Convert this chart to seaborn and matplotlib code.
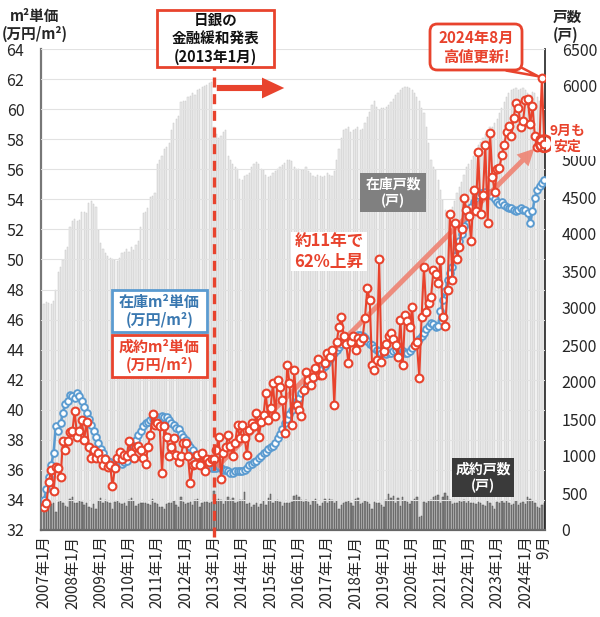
# plot.py
import numpy as np
import pandas as pd
import seaborn as sns
import matplotlib.pyplot as plt
from matplotlib.patches import FancyBboxPatch

# ---- data (monthly, 2007/1 .. 2024/9) ----
first_year = 2007
last_month_label = "9月"

# inventory units (戸), light grey bars
inv_units = [
    3050, 3080, 3070, 3060, 3100, 3250, 3480, 3550, 3650, 3780, 3820, 4100,  # 2007
    4180, 4200, 4170, 4190, 4300, 4300, 4280, 4420, 4450, 4400, 4370, 4050,  # 2008
    3880, 3800, 3750, 3700, 3680, 3660, 3650, 3640, 3680, 3740, 3760, 3800,  # 2009
    3760, 3820, 3780, 3850, 3900, 4100, 4280, 4300, 4350, 4500, 4520, 4550,  # 2010
    4950, 5000, 5050, 5150, 5180, 5230, 5400, 5500, 5550, 5600, 5780, 5800,  # 2011
    5800, 5850, 5870, 5900, 5880, 5950, 5960, 5980, 6000, 6020, 6040, 6060,  # 2012
    5450, 5350, 5300, 5320, 5380, 5400, 5050, 5000, 4950, 4900, 4880, 4750,  # 2013
    4730, 4780, 4800, 4820, 4900, 4950, 4970, 4950, 4880, 4860, 4800, 4770,  # 2014
    4780, 4820, 4850, 4880, 4900, 4930, 4960, 5000, 5000, 4980, 4900, 4880,  # 2015
    4880, 4860, 4870, 4900, 4850, 4820, 4780, 4770, 4800, 4780, 4770, 4790,  # 2016
    4820, 4800, 4780, 4850, 5000, 5150, 5300, 5400, 5420, 5450, 5380, 5400,  # 2017
    5420, 5450, 5400, 5420, 5500, 5580, 5650, 5750, 5800, 5720, 5680, 5700,  # 2018
    5700, 5720, 5750, 5780, 5820, 5880, 5900, 5950, 5970, 5990, 5980, 5970,  # 2019
    5950, 5900, 5850, 5800, 5700, 5630, 5450, 5230, 5000, 4900, 4860, 4730,  # 2020
    4600, 4460, 4320, 4280, 4230, 4360, 4450, 4550, 4630, 4700, 4800, 4900,  # 2021
    4950, 5000, 5050, 5130, 5200, 5250, 5300, 5350, 5400, 5450, 5450, 5500,  # 2022
    5550, 5630, 5700, 5780, 5850, 5900, 5950, 5960, 5970, 5950, 5960, 5970,  # 2023
    5950, 5900, 5880, 5920, 5900, 5850, 5800, 5750, 5720,                    # 2024
]

# contracted units (戸), dark grey bars
sold_units = [
    351, 338, 351, 351, 360, 248, 383, 396, 360, 324, 315, 414,
    441, 360, 369, 392, 383, 338, 360, 315, 293, 351, 279, 396,
    428, 369, 405, 383, 360, 279, 383, 396, 369, 351, 360, 324,
    405, 428, 396, 324, 351, 369, 369, 360, 351, 338, 414, 360,
    351, 315, 306, 279, 351, 369, 360, 396, 338, 315, 450, 383,
    351, 369, 383, 338, 405, 414, 306, 369, 383, 375, 365, 383,
    531, 405, 414, 405, 351, 396, 441, 405, 428, 360, 383, 405,
    400, 518, 351, 369, 315, 338, 369, 315, 351, 396, 338, 428,
    486, 360, 396, 405, 383, 324, 369, 360, 360, 383, 459, 473,
    441, 405, 383, 405, 380, 338, 396, 414, 351, 324, 360, 414,
    370, 414, 405, 360, 396, 279, 338, 369, 383, 390, 360, 324,
    414, 428, 351, 369, 396, 383, 350, 279, 383, 369, 360, 338,
    315, 400, 486, 428, 459, 360, 428, 324, 450, 396, 380, 351,
    396, 414, 450, 180, 189, 383, 369, 396, 405, 441, 459, 473,
    360, 441, 504, 459, 405, 351, 360, 369, 396, 383, 405, 360,
    396, 369, 369, 351, 383, 369, 338, 324, 396, 360, 324, 279,
    383, 369, 390, 360, 396, 369, 338, 351, 396, 338, 360, 383,
    351, 441, 414, 396, 360, 315, 293, 340, 360,
]

# inventory price (万円/m2), blue line
inv_price = [
    34.0, 34.7, 35.5, 36.3, 37.1, 38.9, 38.6, 39.1, 39.8, 40.4, 40.6, 41.0,
    40.9, 40.8, 41.1, 40.9, 40.6, 40.2, 39.8, 39.4, 39.0, 38.6, 38.2, 37.8,
    37.4, 37.1, 36.8, 36.6, 36.5, 36.4, 36.5, 36.6, 36.5, 36.4, 36.5, 36.6,
    36.9, 37.3, 37.6, 38.0, 38.3, 38.6, 38.9, 39.1, 39.2, 39.3, 39.4, 39.4,
    39.5, 39.4, 39.6, 39.5, 39.5, 39.3, 39.1, 39.0, 38.8, 38.7, 38.4, 38.2,
    38.0, 37.7, 37.5, 37.3, 37.0, 36.9, 36.7, 36.5, 36.4, 36.3, 36.2, 36.1,
    36.1, 36.1, 36.2, 36.1, 36.0, 36.0, 35.9, 35.8, 35.8, 35.9, 35.9, 35.9,
    35.9, 36.0, 36.1, 36.3, 36.4, 36.5, 36.6, 36.8, 36.9, 37.1, 37.2, 37.4,
    37.5, 37.6, 37.8, 38.1, 38.4, 38.7, 39.1, 39.4, 39.7, 40.0, 40.3, 40.6,
    40.8, 41.1, 41.3, 41.5, 41.7, 41.9, 42.1, 42.3, 42.4, 42.5, 42.7, 42.9,
    43.1, 43.4, 43.6, 43.8, 44.0, 44.2, 44.4, 44.5, 44.6, 44.7, 44.8, 44.9,
    44.9, 45.0, 45.0, 44.9, 44.8, 44.6, 44.4, 44.3, 44.1, 44.0, 43.9, 43.8,
    43.8, 43.7, 43.8, 43.8, 43.9, 44.0, 44.1, 44.1, 43.9, 43.8, 43.8, 43.9,
    44.1, 44.3, 44.5, 44.7, 44.9, 45.1, 45.4, 45.6, 45.8, 45.7, 45.5, 45.6,
    46.6, 47.3, 47.9, 48.6, 49.1, 49.5, 50.2, 50.8, 51.2, 51.7, 52.2, 52.8,
    53.1, 53.5, 53.8, 54.1, 54.3, 54.4, 54.4, 54.5, 54.3, 54.4, 54.2, 54.0,
    53.8, 53.7, 53.8, 53.6, 53.5, 53.4, 53.4, 53.3, 53.2, 53.3, 53.4, 53.3,
    53.3, 53.1, 52.4, 53.2, 54.1, 54.6, 54.9, 55.1, 55.3,
]

# contracted price (万円/m2), red line
sold_price = [
    33.5, 33.8, 35.2, 36.0, 34.6, 36.2, 36.1, 35.5, 37.9, 37.3, 37.9, 38.5,
    38.6, 39.9, 38.2, 38.6, 39.3, 38.0, 39.2, 37.5, 36.8, 37.3, 36.8, 37.1,
    36.7, 36.3, 36.7, 36.2, 36.3, 34.9, 36.1, 36.8, 37.2, 36.7, 37.0, 36.9,
    37.9, 37.1, 36.8, 37.5, 37.6, 37.3, 36.8, 36.4, 37.5, 38.3, 39.7, 39.0,
    39.1, 38.9, 35.8, 38.9, 38.2, 36.9, 37.5, 38.1, 37.0, 36.5, 36.9, 37.8,
    37.8, 36.9, 35.1, 36.3, 36.4, 37.0, 36.3, 37.1, 35.9, 36.7, 36.5, 36.7,
    36.7, 37.3, 38.2, 35.4, 37.1, 37.5, 38.3, 37.6, 36.9, 37.8, 39.0, 38.1,
    39.0, 38.1, 37.0, 38.65, 39.1, 38.9, 39.8, 38.2, 39.2, 39.65, 41.1, 39.3,
    40.1, 41.8, 39.6, 42.0, 41.5, 40.65, 38.45, 43.0, 41.8, 39.0, 42.65, 40.3,
    40.0, 39.6, 41.3, 42.5, 42.0, 41.65, 42.2, 42.8, 43.4, 42.3, 42.3, 43.1,
    43.8, 43.5, 44.0, 40.3, 44.5, 45.5, 46.2, 44.9, 44.4, 43.1, 44.5, 44.9,
    44.0, 44.8, 44.5, 44.8, 46.1, 48.1, 47.3, 43.0, 42.65, 43.3, 50.0, 43.2,
    43.9, 44.4, 44.9, 45.1, 44.7, 44.3, 43.5, 46.0, 43.0, 46.3, 45.9, 45.5,
    46.85, 44.3, 44.5, 42.1, 46.2, 49.5, 46.5, 47.1, 47.5, 49.3, 49.0, 48.4,
    49.95, 46.2, 45.6, 48.0, 53.0, 48.6, 52.4, 50.0, 50.85, 52.0, 54.1, 53.3,
    52.9, 51.2, 54.6, 53.2, 57.15, 53.0, 54.3, 57.6, 52.4, 58.4, 55.5, 54.5,
    56.0, 56.1, 56.95, 57.6, 58.5, 58.9, 58.2, 59.4, 60.4, 60.1, 58.8, 59.2,
    60.6, 60.7, 59.0, 60.2, 58.2, 57.5, 58.0, 62.1, 57.7,
]

n = len(sold_price)
df = pd.DataFrame({
    "idx": np.arange(n),
    "inv_units": inv_units,
    "sold_units": sold_units,
    "inv_price": inv_price,
    "sold_price": sold_price,
})

tick_pos = list(range(0, n, 12)) + [n - 1]
tick_labels = [f"{first_year + i}年1月" for i in range(len(tick_pos) - 1)] + [last_month_label]

RED = "#e8432d"
BLUE = "#5b9bd0"
W, H = 600, 617

sns.set_style("white")
plt.rcParams["font.family"] = ["Noto Sans CJK JP", "DejaVu Sans"]

fig = plt.figure(figsize=(6, 6.17), dpi=100)
fig.patch.set_facecolor("white")
ax = fig.add_axes([41 / W, 1 - 530 / H, 504 / W, 481 / H])

# bars (units, right scale)
sns.barplot(data=df, x="idx", y="inv_units", native_scale=True, ax=ax,
            color="#ebebeb", saturation=1, width=0.5, edgecolor="#c8c8c8",
            linewidth=0.35, errorbar=None)
sns.barplot(data=df, x="idx", y="sold_units", native_scale=True, ax=ax,
            color="#858585", saturation=1, width=0.6, edgecolor="#505050",
            linewidth=0.35, errorbar=None)
ax.set_xlim(-1.3, n - 0.7)
ax.set_ylim(0, 6500)
ax.set_xlabel("")
ax.set_ylabel("")

# lines (price, left scale)
ax2 = ax.twinx()
ax2.set_ylim(32, 64)
ax2.grid(axis="y", color="#e2e2e2", lw=0.8)
ax2.grid(axis="x", visible=False)

sns.lineplot(data=df, x="idx", y="inv_price", ax=ax2, color=BLUE, lw=1.8,
             marker="o", markersize=4.8, markerfacecolor="white",
             markeredgecolor=BLUE, markeredgewidth=1.4, zorder=2)
ax2.annotate("", xy=(208.6, 57.5), xytext=(72.4, 36.06),
             arrowprops=dict(arrowstyle="simple,head_length=0.6,head_width=0.6,tail_width=0.18",
                             mutation_scale=20, color="#ef7d6c", alpha=0.85, lw=0),
             zorder=2.5)
sns.lineplot(data=df, x="idx", y="sold_price", ax=ax2, color=RED, lw=1.5,
             marker="o", markersize=5.6, markerfacecolor="white",
             markeredgecolor=RED, markeredgewidth=1.5, zorder=3)
ax2.set_xlabel("")
ax2.set_ylabel("")

# BOJ dashed line
ax2.axvline(72, ymin=-0.015, ymax=0.963, color=RED, lw=2.4,
            ls=(0, (3, 2)), clip_on=False, zorder=6)

# ring around last point
ax2.scatter([n - 1], [sold_price[-1]], s=135, facecolors="none",
            edgecolors=RED, linewidths=2, clip_on=False, zorder=7)

# callout tail to 2024/8
ax2.annotate("", xy=(n - 2, sold_price[n - 2]), xytext=(508 / W, 1 - 66 / H),
             textcoords="figure fraction",
             arrowprops=dict(arrowstyle="wedge,tail_width=0.5,shrink_factor=0.5",
                             fc="white", ec=RED, lw=1.8, mutation_scale=14,
                             shrinkA=0, shrinkB=3),
             annotation_clip=False, zorder=8)

# ticks and spines
ax2.set_yticks(np.arange(32, 65, 2))
ax2.yaxis.tick_left()
ax2.tick_params(axis="y", length=0, pad=12, labelsize=11.5)
right_ticks = np.arange(0, 6501, 500)
ax.set_yticks(right_ticks, ["" if t == 5500 else str(t) for t in right_ticks])
ax.yaxis.tick_right()
ax.tick_params(axis="y", length=0, pad=12, labelsize=11.5)
ax.set_xticks(tick_pos, tick_labels, rotation=90, fontsize=11)
ax.tick_params(axis="x", length=0, pad=4)

for s in ax2.spines.values():
    s.set_visible(False)
ax.spines["top"].set_visible(False)
ax.spines["left"].set_color("#777777")
ax.spines["left"].set_linewidth(1.6)
ax.spines["right"].set_color("#222222")
ax.spines["right"].set_linewidth(1.2)
ax.spines["bottom"].set_color("#666666")
ax.spines["bottom"].set_linewidth(1.6)


# ---- annotation boxes (figure pixel positions) ----
def box(x0, y0, x1, y1, fc="white", ec="none", lw=0, style="square,pad=0"):
    fig.add_artist(FancyBboxPatch((x0 / W, 1 - y1 / H), (x1 - x0) / W, (y1 - y0) / H,
                                  boxstyle=style, fc=fc, ec=ec, lw=lw,
                                  transform=fig.transFigure))


def label(cx, cy, s, **kw):
    fig.text(cx / W, 1 - cy / H, s, ha="center", va="center", **kw)


label(35, 25, "m²単価\n(万円/m²)", fontsize=10.5, fontweight="bold", linespacing=1.1)
fig.text(553 / W, 1 - 26 / H, "戸数\n(戸)", ha="left", va="center", fontsize=10.5,
         fontweight="bold", linespacing=1.1)

box(157, 10, 274, 67, ec=RED, lw=2)
label(215.5, 38.5, "日銀の\n金融緩和発表\n(2013年1月)", fontsize=10.5,
      fontweight="bold", linespacing=1.2, color="#111111")

ax2.annotate("", xy=(287 / W, 1 - 88 / H), xytext=(214 / W, 1 - 88 / H),
             xycoords="figure fraction", textcoords="figure fraction",
             arrowprops=dict(arrowstyle="simple,head_length=0.8,head_width=0.75,tail_width=0.22",
                             mutation_scale=20, color=RED, lw=0),
             annotation_clip=False)

box(430, 24, 522, 70, ec=RED, lw=2, style="round,pad=0,rounding_size=0.012")
label(476, 47, "2024年8月\n高値更新!", fontsize=11, fontweight="bold", color=RED,
      linespacing=1.2)

box(551, 121, 598, 156)
fig.text(549 / W, 1 - 139 / H, "9月も\n安定", ha="left", va="center", fontsize=10,
         fontweight="bold", color=RED, linespacing=1.15, multialignment="center")

box(112, 290, 207, 332, ec=BLUE, lw=2)
label(159.5, 311, "在庫m²単価\n(万円/m²)", fontsize=10.8, fontweight="bold",
      color="#3a78b0", linespacing=1.2)
box(112, 335, 207, 377, ec=RED, lw=2)
label(159.5, 356, "成約m²単価\n(万円/m²)", fontsize=10.8, fontweight="bold",
      color=RED, linespacing=1.2)

box(360, 173, 426, 212, fc="#808080")
label(393, 192.5, "在庫戸数\n(戸)", fontsize=10, fontweight="bold", color="white",
      linespacing=1.2)
box(452, 458, 514, 497, fc="#3a3a3a")
label(483, 477.5, "成約戸数\n(戸)", fontsize=10, fontweight="bold", color="white",
      linespacing=1.2)

box(291, 232, 367, 271)
label(329, 251.5, "約11年で\n62%上昇", fontsize=12, fontweight="bold", color=RED,
      linespacing=1.15)

fig.savefig("out.png", dpi=100, facecolor="white")
